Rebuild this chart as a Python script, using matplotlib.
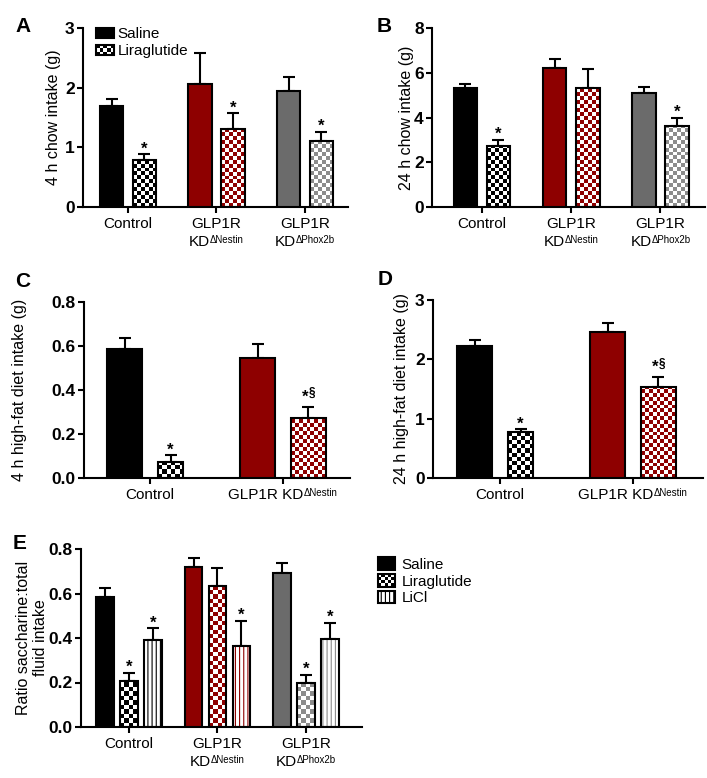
import numpy as np
import matplotlib
matplotlib.use("Agg")
import matplotlib.pyplot as plt
from matplotlib.patches import Rectangle, Patch
from matplotlib.legend_handler import HandlerBase
from matplotlib.colors import to_rgb
from matplotlib.ticker import FormatStrFormatter
from matplotlib.offsetbox import TextArea, HPacker, VPacker, AnnotationBbox

plt.rcParams["font.family"] = ["Liberation Sans", "DejaVu Sans"]
plt.rcParams["hatch.linewidth"] = 0.8

# ---- data ----
# each group label: list of lines, each line is (text, superscript)
groups3 = [[("Control", "")],
           [("GLP1R", ""), ("KD", "ΔNestin")],
           [("GLP1R", ""), ("KD", "ΔPhox2b")]]
groups2 = [[("Control", "")],
           [("GLP1R KD", "ΔNestin")]]

# A: 4 h chow intake (g)
a_saline = [1.69, 2.06, 1.95]
a_saline_sem = [0.12, 0.52, 0.23]
a_lira = [0.78, 1.30, 1.11]
a_lira_sem = [0.10, 0.27, 0.15]
a_lira_stars = ["*", "*", "*"]

# B: 24 h chow intake (g)
b_saline = [5.30, 6.20, 5.08]
b_saline_sem = [0.19, 0.41, 0.27]
b_lira = [2.72, 5.30, 3.60]
b_lira_sem = [0.29, 0.85, 0.40]
b_lira_stars = ["*", "", "*"]

# C: 4 h high-fat diet intake (g)
c_saline = [0.588, 0.545]
c_saline_sem = [0.047, 0.062]
c_lira = [0.074, 0.273]
c_lira_sem = [0.029, 0.052]
c_lira_stars = ["*", "*§"]

# D: 24 h high-fat diet intake (g)
d_saline = [2.22, 2.46]
d_saline_sem = [0.10, 0.16]
d_lira = [0.77, 1.54]
d_lira_sem = [0.05, 0.16]
d_lira_stars = ["*", "*§"]

# E: ratio saccharine:total fluid intake
e_saline = [0.583, 0.720, 0.690]
e_saline_sem = [0.041, 0.040, 0.045]
e_lira = [0.205, 0.633, 0.196]
e_lira_sem = [0.037, 0.083, 0.038]
e_lira_stars = ["*", "", "*"]
e_licl = [0.392, 0.366, 0.396]
e_licl_sem = [0.052, 0.110, 0.073]
e_licl_stars = ["*", "*", "*"]

RED = "#8e0000"
GRAY = "#6b6b6b"
LGRAY = "#8c8c8c"
solid_colors = ["black", RED, GRAY]
pattern_colors = ["black", RED, LGRAY]

W, H = 707, 778
fig = plt.figure(figsize=(W / 100, H / 100), dpi=100)


def place(l, r, t, b):
    return fig.add_axes([l / W, 1 - b / H, (r - l) / W, (b - t) / H])


def checker_fill(ax, bar, color, cell=4.0):
    x0, y0 = bar.get_x(), bar.get_y()
    x1, y1 = x0 + bar.get_width(), y0 + bar.get_height()
    (px0, py0), (px1, py1) = ax.transData.transform([(x0, y0), (x1, y1)])
    nx = max(1, int(round((px1 - px0) / cell)))
    step = (px1 - px0) / nx
    ny = max(1, int(np.ceil((py1 - py0) / step)))
    top = y0 + ny * step * (y1 - y0) / (py1 - py0)
    ii, jj = np.indices((ny, nx))
    img = np.ones((ny, nx, 3))
    img[(ii + jj) % 2 == 0] = to_rgb(color)
    im = ax.imshow(img, extent=(x0, x1, y0, top), origin="lower", aspect="auto",
                   interpolation="nearest", zorder=2)
    im.set_clip_path(bar)


def add_star(ax, x, y, st):
    if st == "*":
        ax.annotate("*", (x, y), xytext=(0, -1.5), textcoords="offset points",
                    ha="center", va="bottom", fontsize=12, fontweight="bold")
    elif st:
        ax.annotate("*", (x, y), xytext=(-2.5, 1.5), textcoords="offset points",
                    ha="center", va="bottom", fontsize=12, fontweight="bold")
        ax.annotate(st[1:], (x, y), xytext=(0.3, 5.5), textcoords="offset points",
                    ha="left", va="bottom", fontsize=8.5, fontweight="bold")


def draw_series(ax, xs, vals, sems, stars, kind, colors, widths):
    for x, v, s, st, c, w in zip(xs, vals, sems, stars, colors, widths):
        if kind == "solid":
            ax.bar(x, v, w, color=c, edgecolor="black", lw=1.5, zorder=3)
        elif kind == "checker":
            b = ax.bar(x, v, w, facecolor="none", edgecolor="black", lw=1.5, zorder=3)[0]
            checker_fill(ax, b, c)
        else:
            ax.bar(x, v, w, facecolor="white", edgecolor=c, lw=0, hatch="||||", zorder=2)
            ax.bar(x, v, w, fill=False, edgecolor="black", lw=1.5, zorder=3)
        ax.errorbar(x, v, yerr=[[0], [s]], fmt="none", ecolor="black", elinewidth=1.5,
                    capsize=4, capthick=1.5, zorder=1)
        add_star(ax, x, v + s, st)


def group_labels(ax, labels, fs=11, sup_fs=7):
    for i, lines in enumerate(labels):
        rows = []
        for txt, sup in lines:
            parts = [TextArea(txt, textprops=dict(fontsize=fs))]
            if sup:
                parts.append(TextArea(sup, textprops=dict(fontsize=sup_fs)))
            rows.append(HPacker(children=parts, align="top", pad=0, sep=0))
        box = VPacker(children=rows, align="center", pad=0, sep=3)
        ab = AnnotationBbox(box, (i, 0), xycoords=("data", "axes fraction"),
                            xybox=(0, -7), boxcoords="offset points",
                            box_alignment=(0.5, 1), frameon=False, pad=0,
                            annotation_clip=False)
        ax.add_artist(ab)


def style_axes(ax, xlim, ylim, yticks, labels, ylabel, label_x, fmt=None):
    ax.set_xlim(*xlim)
    ax.set_ylim(*ylim)
    ax.set_yticks(yticks)
    if fmt:
        ax.yaxis.set_major_formatter(FormatStrFormatter(fmt))
    ax.set_xticks(range(len(labels)))
    ax.set_xticklabels([])
    group_labels(ax, labels)
    for lab in ax.get_yticklabels():
        lab.set_fontweight("bold")
        lab.set_fontsize(12.5)
    ax.spines["top"].set_visible(False)
    ax.spines["right"].set_visible(False)
    ax.spines["left"].set_linewidth(1.5)
    ax.spines["bottom"].set_linewidth(1.5)
    ax.tick_params(axis="both", length=4, width=1.5, direction="out")
    ax.tick_params(axis="y", pad=2)
    ax.set_ylabel(ylabel, fontsize=11.5)
    ax.yaxis.set_label_coords(label_x, 0.5)


class CheckerHandler(HandlerBase):
    def __init__(self, color, ncol=5, nrow=3):
        super().__init__()
        self.color, self.ncol, self.nrow = color, ncol, nrow

    def create_artists(self, legend, orig_handle, xdescent, ydescent, width, height,
                       fontsize, trans):
        x0, y0 = -xdescent, -ydescent
        cw, ch = width / self.ncol, height / self.nrow
        arts = [Rectangle((x0, y0), width, height, facecolor="white", edgecolor="none",
                          transform=trans)]
        for i in range(self.ncol):
            for j in range(self.nrow):
                if (i + j) % 2 == 0:
                    arts.append(Rectangle((x0 + i * cw, y0 + j * ch), cw, ch,
                                          facecolor=self.color, edgecolor="none", transform=trans))
        arts.append(Rectangle((x0, y0), width, height, fill=False, edgecolor="black",
                              lw=1.5, transform=trans))
        return arts


# ---- A ----
ax = place(83, 348, 28, 207)
style_axes(ax, (-0.508, 2.486), (0, 3), [0, 1, 2, 3], groups3, "4 h chow intake (g)", -0.083)
x = np.arange(3)
draw_series(ax, x - 0.185, a_saline, a_saline_sem, ["", "", ""], "solid", solid_colors, [0.265] * 3)
draw_series(ax, x + 0.185, a_lira, a_lira_sem, a_lira_stars, "checker", pattern_colors, [0.265] * 3)
h_sal = Patch(facecolor="black", edgecolor="black", lw=1.5)
h_lira = Patch()
fig.legend([h_sal, h_lira], ["Saline", "Liraglutide"], loc="upper left",
           bbox_to_anchor=(96 / W, 1 - 27 / H), frameon=False, borderpad=0, borderaxespad=0,
           fontsize=11, handlelength=1.2, handleheight=0.65, handletextpad=0.2,
           labelspacing=0.22, handler_map={h_lira: CheckerHandler("black")})

# ---- B ----
ax = place(432, 705, 28, 207)
style_axes(ax, (-0.56, 2.5), (0, 8), [0, 2, 4, 6, 8], groups3, "24 h chow intake (g)", -0.065)
draw_series(ax, x - 0.185, b_saline, b_saline_sem, ["", "", ""], "solid", solid_colors, [0.265] * 3)
draw_series(ax, x + 0.185, b_lira, b_lira_sem, b_lira_stars, "checker", pattern_colors, [0.265] * 3)

# ---- C ----
x2 = np.arange(2)
lira_w = [0.19, 0.26]
ax = place(84, 350, 302, 478)
style_axes(ax, (-0.496, 1.504), (0, 0.8), [0, 0.2, 0.4, 0.6, 0.8], groups2,
           "4 h high-fat diet intake (g)", -0.214, "%.1f")
draw_series(ax, x2 - 0.19, c_saline, c_saline_sem, ["", ""], "solid", solid_colors, [0.26, 0.26])
draw_series(ax, x2 + 0.06 + np.array(lira_w) / 2, c_lira, c_lira_sem, c_lira_stars, "checker",
            pattern_colors, lira_w)

# ---- D ----
ax = place(433, 703, 300, 478)
style_axes(ax, (-0.504, 1.526), (0, 3), [0, 1, 2, 3], groups2,
           "24 h high-fat diet intake (g)", -0.088)
draw_series(ax, x2 - 0.19, d_saline, d_saline_sem, ["", ""], "solid", solid_colors, [0.26, 0.26])
draw_series(ax, x2 + 0.06 + np.array(lira_w) / 2, d_lira, d_lira_sem, d_lira_stars, "checker",
            pattern_colors, lira_w)

# ---- E ----
ax = place(81, 362, 549, 727)
style_axes(ax, (-0.542, 2.633), (0, 0.8), [0, 0.2, 0.4, 0.6, 0.8], groups3,
           "Ratio saccharine:total\nfluid intake", -0.117, "%.1f")
draw_series(ax, x - 0.27, e_saline, e_saline_sem, ["", "", ""], "solid", solid_colors, [0.2] * 3)
draw_series(ax, x, e_lira, e_lira_sem, e_lira_stars, "checker", pattern_colors, [0.2] * 3)
draw_series(ax, x + 0.27, e_licl, e_licl_sem, e_licl_stars, "stripe", pattern_colors, [0.2] * 3)
h_sal2 = Patch(facecolor="black", edgecolor="black", lw=1.5)
h_lira2 = Patch()
h_licl = Patch(facecolor="white", edgecolor="black", lw=1.5, hatch="||||")
fig.legend([h_sal2, h_lira2, h_licl], ["Saline", "Liraglutide", "LiCl"], loc="upper left",
           bbox_to_anchor=(378 / W, 1 - 557 / H), frameon=False, borderpad=0, borderaxespad=0,
           fontsize=11, handlelength=1.1, handleheight=0.9, handletextpad=0.45,
           labelspacing=0.15, handler_map={h_lira2: CheckerHandler("black", 5, 4)})

# panel letters
for letter, px, py in [("A", 15, 17), ("B", 377, 17), ("C", 15, 272), ("D", 378, 270), ("E", 13, 534)]:
    fig.text(px / W, 1 - py / H, letter, ha="left", va="top", fontsize=15, fontweight="bold")

fig.savefig("out.png", dpi=100)
